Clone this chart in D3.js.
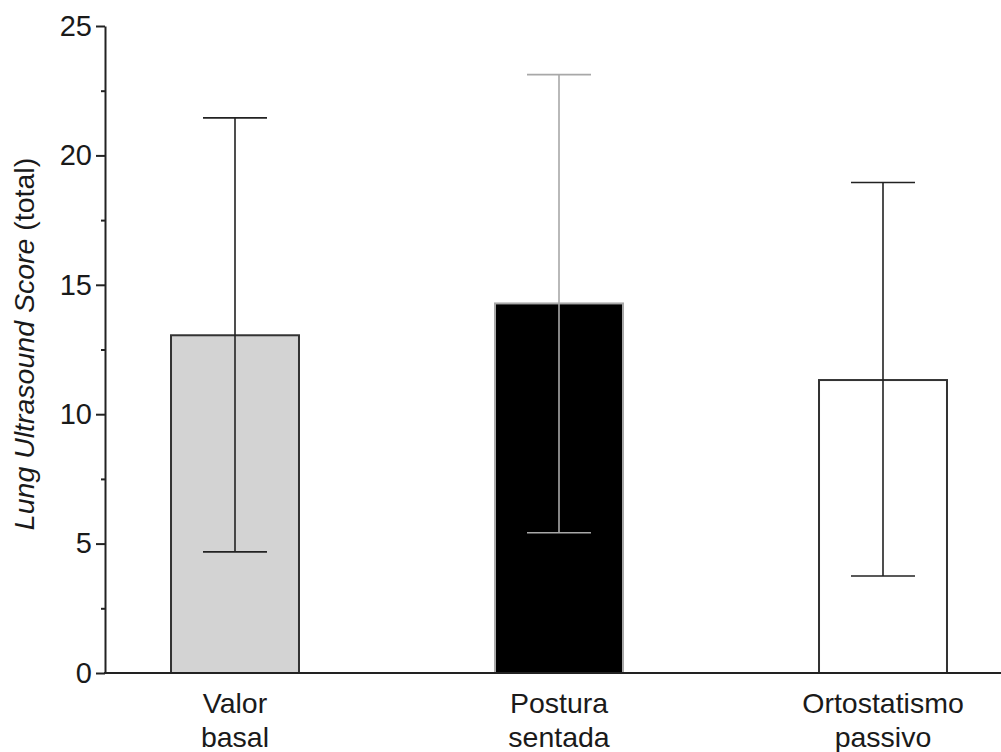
<!DOCTYPE html>
<html lang="en">
<head>
    <meta charset="UTF-8">
    <title>Lung Ultrasound Score</title>
    <script src="https://d3js.org/d3.v7.min.js"></script>
    <style>
        body { margin: 0; background: #fff; }
        text { font-family: "Liberation Sans", Arial, sans-serif; fill: #1a1a1a; }
    </style>
</head>
<body>
    <svg id="chart" width="1001" height="752"></svg>
    <script>
        const categories = [["Valor", "basal"], ["Postura", "sentada"], ["Ortostatismo", "passivo"]];
        const means = [13.05, 14.28, 11.32];
        const upper = [21.45, 23.12, 18.95];
        const lower = [4.68, 5.42, 3.75];
        const fills = ["#d3d3d3", "#000000", "#ffffff"];
        const outlines = ["#333333", "#a8a8a8", "#333333"];
        const whiskers = ["#222222", "#a8a8a8", "#222222"];
        const majorTicks = [0, 5, 10, 15, 20, 25];
        const minorTicks = [2.5, 7.5, 12.5, 17.5, 22.5];

        const svg = d3.select("#chart");
        const axisX = 105;

        const keys = categories.map(c => c.join(" "));
        const x = d3.scaleBand()
            .domain(keys)
            .range([73, 1045])
            .paddingInner(0.605)
            .paddingOuter(0.3025);

        const y = d3.scaleLinear()
            .domain([0, 25])
            .range([673, 26]);

        // bars
        svg.selectAll("rect.bar")
            .data(keys)
            .enter()
            .append("rect")
                .attr("class", "bar")
                .attr("x", d => x(d))
                .attr("width", x.bandwidth())
                .attr("y", (d, i) => y(means[i]))
                .attr("height", (d, i) => y(0) - y(means[i]))
                .attr("fill", (d, i) => fills[i])
                .attr("stroke", (d, i) => outlines[i])
                .attr("stroke-width", 2);

        // error bars
        const eb = svg.selectAll("g.err")
            .data(keys)
            .enter()
            .append("g")
                .attr("stroke", (d, i) => whiskers[i])
                .attr("stroke-width", 1.6);

        eb.append("line")
            .attr("x1", d => x(d) + x.bandwidth() / 2)
            .attr("x2", d => x(d) + x.bandwidth() / 2)
            .attr("y1", (d, i) => y(upper[i]))
            .attr("y2", (d, i) => y(lower[i]));

        eb.append("line")
            .attr("x1", d => x(d) + x.bandwidth() / 4)
            .attr("x2", d => x(d) + x.bandwidth() * 3 / 4)
            .attr("y1", (d, i) => y(upper[i]))
            .attr("y2", (d, i) => y(upper[i]));

        eb.append("line")
            .attr("x1", d => x(d) + x.bandwidth() / 4)
            .attr("x2", d => x(d) + x.bandwidth() * 3 / 4)
            .attr("y1", (d, i) => y(lower[i]))
            .attr("y2", (d, i) => y(lower[i]));

        // y axis
        const yAxis = svg.append("g")
            .attr("transform", `translate(${axisX},0)`)
            .call(d3.axisLeft(y).tickValues(majorTicks).tickSize(9).tickPadding(4).tickSizeOuter(0));
        yAxis.select(".domain").attr("stroke", "#222").attr("stroke-width", 2);
        yAxis.selectAll(".tick line").attr("stroke", "#222").attr("stroke-width", 2);
        yAxis.selectAll("text").style("font-size", "29px").attr("fill", "#1a1a1a");

        const yMinor = svg.append("g")
            .attr("transform", `translate(${axisX},0)`)
            .call(d3.axisLeft(y).tickValues(minorTicks).tickSize(4).tickFormat(""));
        yMinor.select(".domain").remove();
        yMinor.selectAll(".tick line").attr("stroke", "#222").attr("stroke-width", 2);

        // x axis line
        svg.append("line")
            .attr("x1", axisX - 1)
            .attr("x2", 1001)
            .attr("y1", y(0))
            .attr("y2", y(0))
            .attr("stroke", "#222")
            .attr("stroke-width", 2);

        // category labels
        const lab = svg.selectAll("text.cat")
            .data(categories)
            .enter()
            .append("text")
                .attr("class", "cat")
                .attr("x", (d, i) => x(keys[i]) + x.bandwidth() / 2)
                .attr("y", 713)
                .attr("text-anchor", "middle")
                .style("font-size", "28.5px");
        lab.append("tspan")
            .attr("x", (d, i) => x(keys[i]) + x.bandwidth() / 2)
            .text(d => d[0]);
        lab.append("tspan")
            .attr("x", (d, i) => x(keys[i]) + x.bandwidth() / 2)
            .attr("dy", 34)
            .text(d => d[1]);

        // y label
        const yl = svg.append("text")
            .attr("transform", "translate(34,344) rotate(-90)")
            .attr("text-anchor", "middle")
            .style("font-size", "28.5px");
        yl.append("tspan").style("font-style", "italic").text("Lung Ultrasound Score");
        yl.append("tspan").text(" (total)");
    </script>
</body>
</html>
